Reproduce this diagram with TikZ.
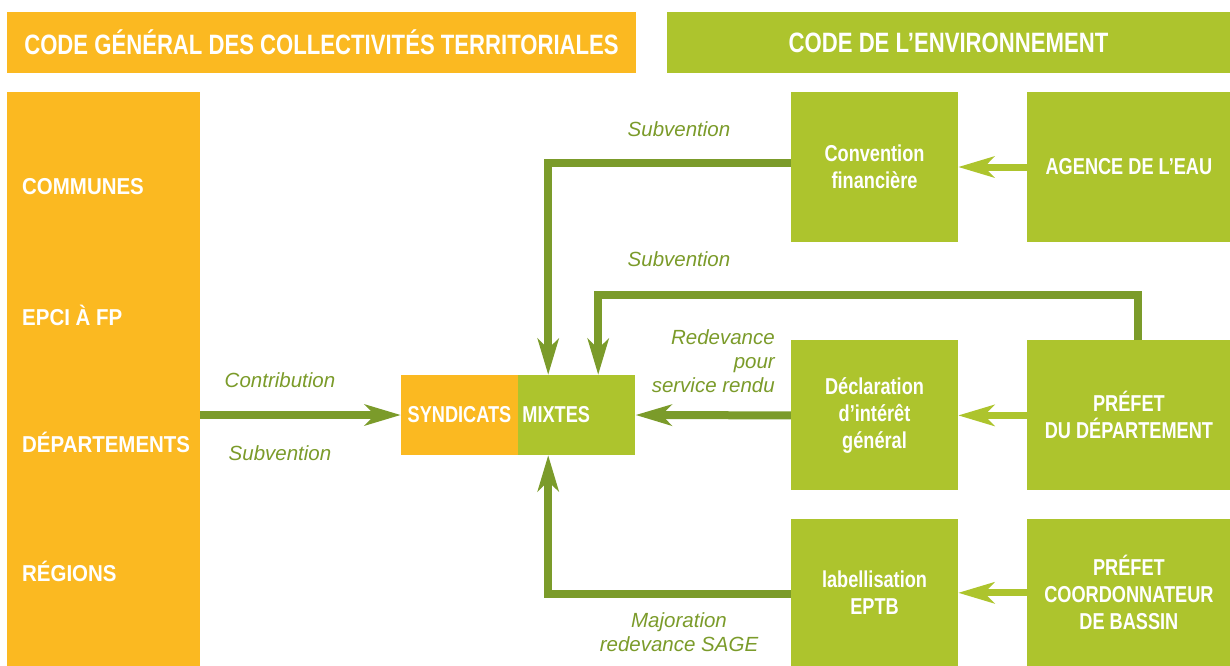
\documentclass[tikz,border=0pt]{standalone}
\usepackage{fontspec}
\setmainfont{Liberation Sans}
\newfontfamily\condfont{Liberation Sans}[FakeStretch=0.79]
\newfontfamily\colfont{Liberation Sans}[FakeStretch=0.89]
\usepackage{tikz}
\usetikzlibrary{calc}
\usetikzlibrary{arrows.meta}
\usetikzlibrary{positioning}
\definecolor{orangecg}{HTML}{FBB921}
\definecolor{vertclair}{HTML}{ADC42D}
\definecolor{vertfonce}{HTML}{7B9B2A}
\tikzset{%
  boxtext/.style={text=white, font=\condfont\bfseries\fontsize{23}{27}\selectfont, inner sep=0pt},
  coltext/.style={boxtext, font=\colfont\bfseries\fontsize{23}{27}\selectfont, anchor=west},
  orangebox/.style={boxtext, fill=orangecg},
  vertbox/.style={boxtext, fill=vertclair, align=center, minimum width=167pt, minimum height=150pt},
  headtext/.style={font=\condfont\bfseries\fontsize{28}{30}\selectfont, minimum height=61pt},
  darkedge/.style={-{Stealth[length=36pt, width=21pt, inset=10pt]}, draw=vertfonce, line width=8pt},
  lightedge/.style={-{Stealth[length=36pt, width=21pt, inset=10pt]}, draw=vertclair, line width=7pt},
  mylabel/.style={text=vertfonce, font=\itshape\fontsize{20.5}{24}\selectfont, align=center, inner sep=0pt}
}

\begin{document}
\begin{tikzpicture}[x=1pt, y=-1pt]
  \useasboundingbox (0,0) rectangle (1230,665);
  % en-tetes
  \node[orangebox, headtext, minimum width=629pt] (cgct) at (321.5,42.5) {CODE GÉNÉRAL DES COLLECTIVITÉS TERRITORIALES};
  \node[vertbox, headtext, minimum width=563pt] (cenv) at (948.5,42.5) {CODE DE L’ENVIRONNEMENT};
  % collectivites
  \node[orangebox, minimum width=193pt, minimum height=575pt] (collect) at (103.5,379.5) {};
  \node[coltext] (communes) at (22,187) {COMMUNES};
  \node[coltext] (epci) at (22,315) {EPCI À FP};
  \node[coltext] (depts) at (22,442) {DÉPARTEMENTS};
  \node[coltext] (regions) at (22,571) {RÉGIONS};
  % syndicats mixtes
  \node[orangebox, minimum width=117pt, minimum height=80pt] (syndo) at (459.5,415) {SYNDICATS};
  \node[vertbox, minimum width=117pt, minimum height=80pt, text width=109pt, align=left, right=0pt of syndo] (syndg) {MIXTES};
  % code de l'environnement
  \node[vertbox] (conv) at (874.5,167) {Convention\\financière};
  \node[vertbox, minimum width=203pt, right=69pt of conv] (agence) {AGENCE DE L’EAU};
  \node[vertbox, below=98pt of conv] (decl) {Déclaration\\d’intérêt\\général};
  \node[vertbox, minimum width=203pt, right=69pt of decl] (pdep) {PRÉFET\\DU DÉPARTEMENT};
  \node[vertbox, minimum height=148pt, below=28pt of decl] (lab) {labellisation\\EPTB};
  \node[vertbox, minimum width=203pt, minimum height=148pt, right=69pt of lab] (pcoord) {PRÉFET\\COORDONNATEUR\\DE BASSIN};
  % fleches
  \draw[lightedge] (agence.west) -- (conv.east);
  \draw[lightedge] (pdep.west) -- (decl.east);
  \draw[lightedge] (pcoord.west) -- (lab.east);
  \draw[darkedge] ([yshift=4pt]conv.west) -| ([xshift=30pt]syndg.north west);
  \draw[darkedge] ([xshift=9pt]pdep.north) -- ++(0,-45) -| ([xshift=80pt]syndg.north west);
  \draw[darkedge] (decl.west) -- (syndg.east);
  \draw[darkedge] ([yshift=-1pt]lab.west) -| ([xshift=30pt]syndg.south west);
  \draw[darkedge] (collect.east |- syndo.west) -- (syndo.west);
  % libelles
  \node[mylabel] (subv1) at (679,129) {Subvention};
  \node[mylabel] (subv2) at (679,259) {Subvention};
  \node[mylabel, align=right, anchor=east] (redev) at (775,361) {Redevance\\pour\\service rendu};
  \node[mylabel] (contrib) at (280,380) {Contribution};
  \node[mylabel] (subv3) at (280,453) {Subvention};
  \node[mylabel] (major) at (679,632) {Majoration\\redevance SAGE};
\end{tikzpicture}
\end{document}
